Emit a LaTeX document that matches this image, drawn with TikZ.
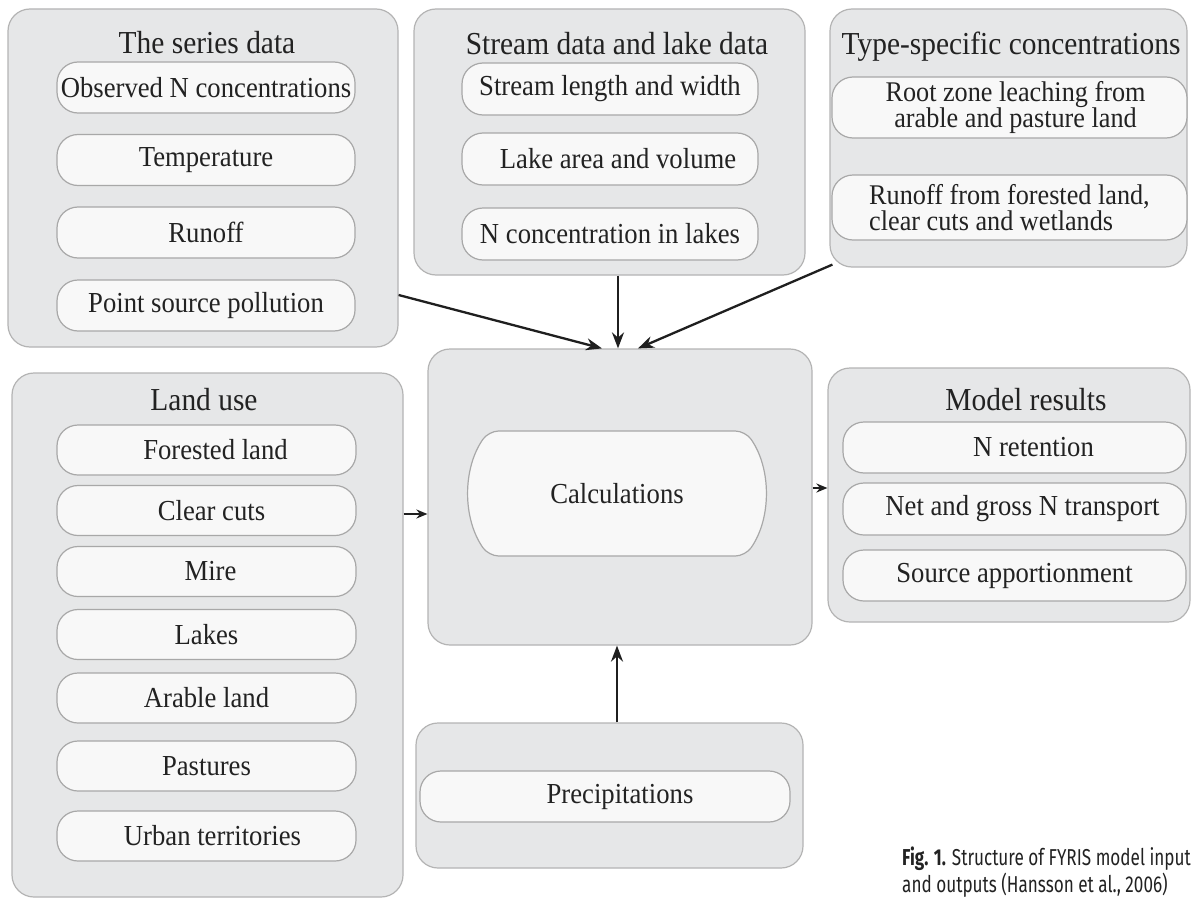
\documentclass[tikz,border=0pt]{standalone}
\usepackage{fontspec}
\setmainfont[FakeStretch=0.92]{Liberation Serif}
\newfontfamily\capfont[FakeStretch=0.745]{Fira Sans}
\usetikzlibrary{arrows.meta,shapes.misc}
\definecolor{boxfill}{HTML}{E6E7E8}
\definecolor{boxline}{HTML}{B4B4B4}
\definecolor{pillfill}{HTML}{F8F8F8}
\definecolor{pillline}{HTML}{A8A8A8}
\definecolor{ink}{HTML}{222222}
\tikzset{
  grp/.style={draw=boxline, fill=boxfill, rounded corners=22pt, line width=1.2pt, inner sep=0pt},
  pill/.style={draw=pillline, fill=pillfill, rounded corners=21pt, line width=1.2pt, inner sep=0pt,
    text=ink, font=\fontsize{29pt}{29pt}\selectfont},
  ttl/.style={inner sep=0pt, anchor=base, text=ink, font=\fontsize{32pt}{32pt}\selectfont},
  arr/.style={-{Stealth[length=16pt,width=12pt]}, line width=2.3pt, draw=black!88},
  sarr/.style={-{Stealth[length=11pt,width=9pt]}, line width=2.3pt, draw=black!88},
  captext/.style={inner sep=0pt, anchor=base west, text=ink, font=\capfont\fontsize{23pt}{23pt}\selectfont}
}
\begin{document}
\begin{tikzpicture}[x=1pt,y=-1pt]
\clip (0,0) rectangle (1191,899);
\fill[white] (0,0) rectangle (1191,899);

% The series data
\node[grp, minimum width=390pt, minimum height=338pt] (s1) at (203,178) {};
\node[ttl] (t1) at (207,53) {The series data};
\node[pill, minimum width=298pt, minimum height=51pt] (p1a) at (206,87.5) {Observed N concentrations};
\node[pill, minimum width=298pt, minimum height=51pt] (p1b) at (206,160) {Temperature};
\node[pill, minimum width=298pt, minimum height=51pt] (p1c) at (206,232.5) {Runoff};
\node[pill, minimum width=298pt, minimum height=51pt] (p1d) at (206,305.5) {Point source pollution};

% Stream data and lake data
\node[grp, minimum width=391pt, minimum height=266pt] (s2) at (609.5,142) {};
\node[ttl] (t2) at (617,55) {Stream data and lake data};
\node[pill, minimum width=296pt, minimum height=52pt] (p2a) at (610,89) {Stream length and width};
\node[pill, minimum width=296pt, minimum height=52pt] (p2b) at (610,159) {\hspace*{16pt}Lake area and volume};
\node[pill, minimum width=296pt, minimum height=52pt] (p2c) at (610,234) {N concentration in lakes};

% Type-specific concentrations
\node[grp, minimum width=357pt, minimum height=258pt] (s3) at (1008.5,138) {};
\node[ttl] (t3) at (1011,55) {Type-specific concentrations};
\node[pill, minimum width=355pt, minimum height=61pt, align=center,
  font=\fontsize{28.5pt}{26pt}\selectfont] (p3a) at (1009.5,107.5) {\hspace*{12pt}Root zone leaching from\\\hspace*{12pt}arable and pasture land};
\node[pill, minimum width=355pt, minimum height=65pt, align=left,
  font=\fontsize{28.5pt}{26pt}\selectfont] (p3b) at (1009.5,207.5) {Runoff from forested land,\\ clear cuts and wetlands};

% Calculations
\node[grp, minimum width=384pt, minimum height=296pt] (s4) at (620,497) {};
\node[draw=pillline, fill=pillfill, line width=1.2pt, rounded rectangle, rounded rectangle arc length=70,
  rounded corners=10pt,
  minimum width=296pt, minimum height=125pt, inner sep=0pt, text=ink,
  font=\fontsize{29pt}{29pt}\selectfont] (calc) at (617,493.5) {Calculations};

% Land use
\node[grp, minimum width=391pt, minimum height=524pt] (s5) at (207.5,635) {};
\node[ttl] (t5) at (204,410) {Land use};
\node[pill, minimum width=299pt, minimum height=50pt] (l1) at (206.5,450) {\hspace*{18pt}Forested land};
\node[pill, minimum width=299pt, minimum height=50pt] (l2) at (206.5,510.5) {\hspace*{10pt}Clear cuts};
\node[pill, minimum width=299pt, minimum height=50pt] (l3) at (206.5,571.5) {\hspace*{8pt}Mire};
\node[pill, minimum width=299pt, minimum height=50pt] (l4) at (206.5,634.5) {Lakes};
\node[pill, minimum width=299pt, minimum height=50pt] (l5) at (206.5,698) {Arable land};
\node[pill, minimum width=299pt, minimum height=50pt] (l6) at (206.5,766) {Pastures};
\node[pill, minimum width=299pt, minimum height=50pt] (l7) at (206.5,836) {\hspace*{12pt}Urban territories};

% Model results
\node[grp, minimum width=362pt, minimum height=254pt] (s6) at (1009,495) {};
\node[ttl] (t6) at (1026,410) {Model results};
\node[pill, minimum width=343pt, minimum height=51pt] (m1) at (1014.5,447.5) {\hspace*{38pt}N retention};
\node[pill, minimum width=343pt, minimum height=52pt] (m2) at (1014.5,509) {\hspace*{16pt}Net and gross N transport};
\node[pill, minimum width=343pt, minimum height=51pt] (m3) at (1014.5,575.5) {Source apportionment};

% Precipitations
\node[grp, minimum width=387pt, minimum height=145pt] (s7) at (609.5,795.5) {};
\node[pill, minimum width=370pt, minimum height=51pt] (pr) at (605,796.5) {\hspace*{30pt}Precipitations};

% Arrows
\draw[arr] ([yshift=-117pt]s1.east) -- ([xshift=-18pt]s4.north);
\draw[arr] ([xshift=8.5pt]s2.south) -- ([xshift=-2pt]s4.north);
\draw[arr] ([xshift=3pt,yshift=3pt]s3.south west) -- ([xshift=18pt]s4.north);
\draw[sarr] ([yshift=121pt]s5.east) -- ([yshift=121pt]s5.east -| s4.west);
\draw[sarr] ([yshift=9pt]s4.east) -- ([yshift=9pt]s4.east -| s6.west);
\draw[arr] ([xshift=7.5pt]s7.north) -- ([xshift=7.5pt]s7.north |- s4.south);

% Caption
\node[captext] (c1) at (902,865) {\textbf{Fig. 1.} Structure of FYRIS model input};
\node[captext] (c2) at (902,892) {and outputs (Hansson et al., 2006)};
\end{tikzpicture}
\end{document}
